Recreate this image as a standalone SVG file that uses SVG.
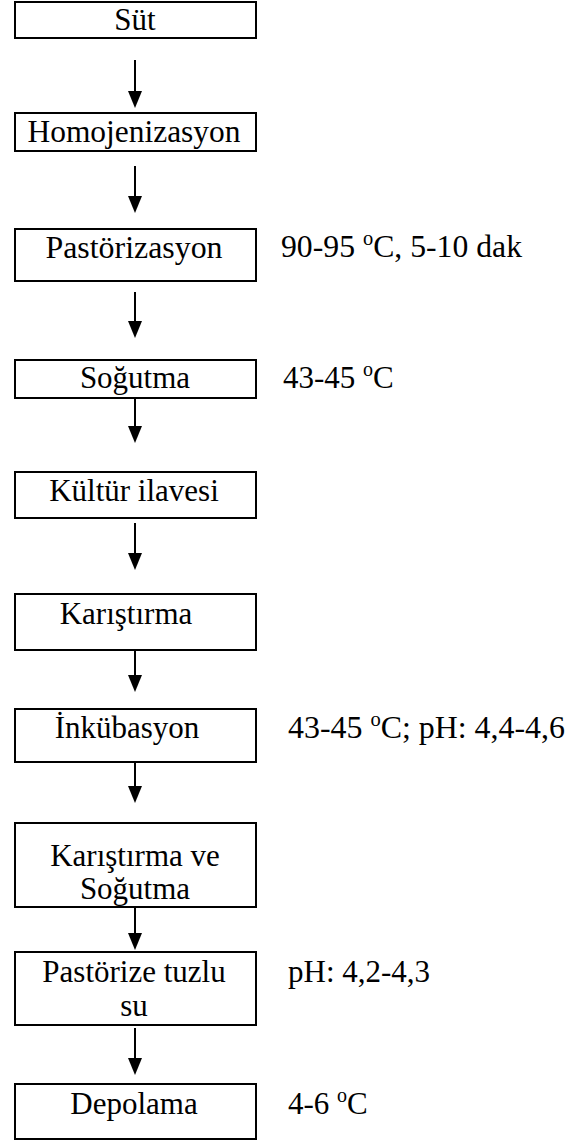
<svg xmlns="http://www.w3.org/2000/svg" width="570" height="1142" viewBox="0 0 570 1142">
  <defs>
    <style>
      .box { fill: #fff; stroke: #000; stroke-width: 2; }
      text { font-family: 'Liberation Serif', 'Times New Roman', 'DejaVu Serif', serif; font-size: 31px; fill: #000; }
      .mid { text-anchor: middle; }
      .sup { font-size: 20px; }
      .wire { stroke: #000; stroke-width: 2; fill: none; }
    </style>
  </defs>
  <rect width="570" height="1142" fill="#fff"/>

  <!-- flow connectors: shaft plus filled arrowhead -->
  <g id="connectors">
    <line class="wire" x1="135" y1="60" x2="135" y2="91" />
    <path d="M128,91 L142,91 L135,108 Z" />
    <line class="wire" x1="135" y1="166" x2="135" y2="196" />
    <path d="M128,196 L142,196 L135,213 Z" />
    <line class="wire" x1="135" y1="292" x2="135" y2="321" />
    <path d="M128,321 L142,321 L135,338 Z" />
    <line class="wire" x1="135" y1="399" x2="135" y2="426" />
    <path d="M128,426 L142,426 L135,443 Z" />
    <line class="wire" x1="135" y1="523" x2="135" y2="553" />
    <path d="M128,553 L142,553 L135,570 Z" />
    <line class="wire" x1="135" y1="651" x2="135" y2="675" />
    <path d="M128,675 L142,675 L135,692 Z" />
    <line class="wire" x1="135" y1="755" x2="135" y2="786" />
    <path d="M128,786 L142,786 L135,803 Z" />
    <line class="wire" x1="135" y1="908" x2="135" y2="933" />
    <path d="M128,933 L142,933 L135,950 Z" />
    <line class="wire" x1="135" y1="1028" x2="135" y2="1058" />
    <path d="M128,1058 L142,1058 L135,1075 Z" />
  </g>

  <g id="sut">
    <rect class="box" x="15" y="2" width="241" height="36"/>
    <text class="mid" x="135" y="30">Süt</text>
  </g>

  <g id="homojenizasyon">
    <rect class="box" x="15" y="113" width="241" height="38"/>
    <text class="mid" x="134" y="142" textLength="213" lengthAdjust="spacingAndGlyphs">Homojenizasyon</text>
  </g>

  <g id="pastorizasyon">
    <rect class="box" x="15" y="229" width="241" height="52"/>
    <text class="mid" x="134" y="258" textLength="177" lengthAdjust="spacingAndGlyphs">Pastörizasyon</text>
  </g>
  <g id="pastorizasyon-note">
    <text x="281" y="257" textLength="241" lengthAdjust="spacingAndGlyphs">90-95 <tspan class="sup" dy="-12">o</tspan><tspan dy="12">C, 5-10 dak</tspan></text>
  </g>

  <g id="sogutma">
    <rect class="box" x="15" y="360" width="241" height="38"/>
    <text class="mid" x="135" y="388">Soğutma</text>
  </g>
  <g id="sogutma-note">
    <text x="283" y="388">43-45 <tspan class="sup" dy="-12">o</tspan><tspan dy="12">C</tspan></text>
  </g>

  <g id="kultur">
    <rect class="box" x="15" y="472" width="241" height="46"/>
    <text class="mid" x="134" y="501">Kültür ilavesi</text>
  </g>

  <g id="karistirma">
    <rect class="box" x="15" y="594" width="241" height="56"/>
    <text class="mid" x="126" y="624">Karıştırma</text>
  </g>

  <g id="inkubasyon">
    <rect class="box" x="15" y="709" width="241" height="53"/>
    <text class="mid" x="127" y="738">İnkübasyon</text>
  </g>
  <g id="inkubasyon-note">
    <text x="288" y="738" textLength="277" lengthAdjust="spacingAndGlyphs">43-45 <tspan class="sup" dy="-12">o</tspan><tspan dy="12">C; pH: 4,4-4,6</tspan></text>
  </g>

  <g id="karistirma-sogutma">
    <rect class="box" x="15" y="823" width="241" height="84"/>
    <text class="mid" x="135" y="866">Karıştırma ve</text>
    <text class="mid" x="135" y="899">Soğutma</text>
  </g>

  <g id="tuzlu-su">
    <rect class="box" x="15" y="952" width="241" height="73"/>
    <text class="mid" x="134" y="982">Pastörize tuzlu</text>
    <text class="mid" x="134" y="1016">su</text>
  </g>
  <g id="tuzlu-su-note">
    <text x="288" y="982">pH: 4,2-4,3</text>
  </g>

  <g id="depolama">
    <rect class="box" x="15" y="1084" width="241" height="55"/>
    <text class="mid" x="134" y="1114">Depolama</text>
  </g>
  <g id="depolama-note">
    <text x="288" y="1114">4-6 <tspan class="sup" dy="-12">o</tspan><tspan dy="12">C</tspan></text>
  </g>
</svg>
